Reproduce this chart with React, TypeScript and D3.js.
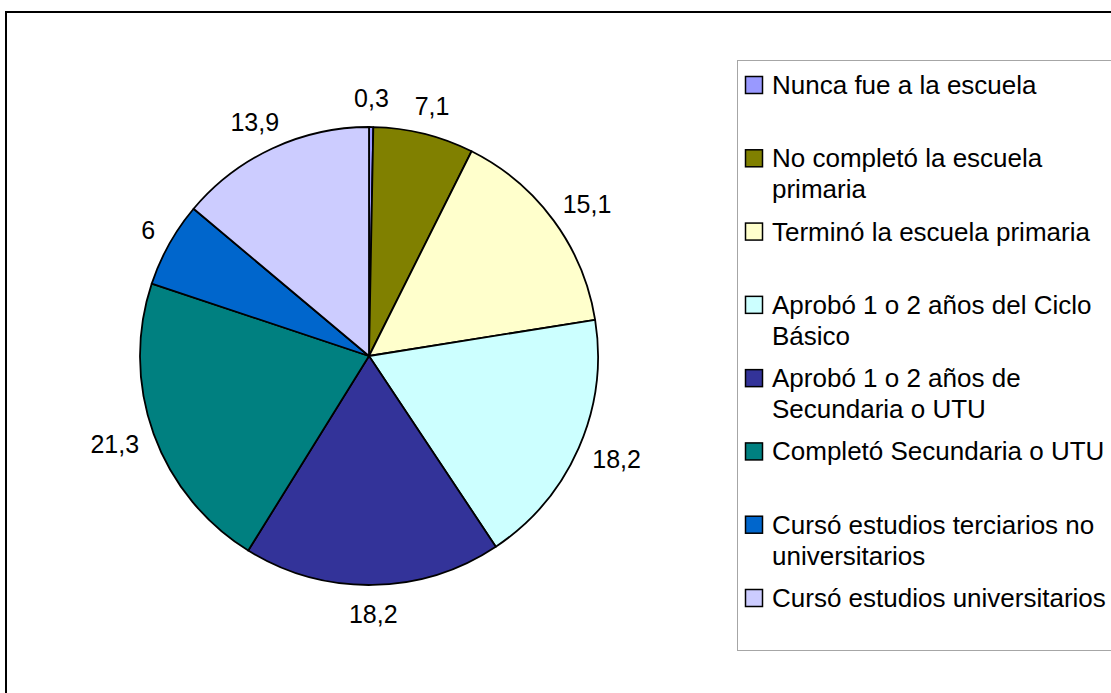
import { useEffect, useRef } from "react"
import * as d3 from "d3"

// Education level shares (%), clockwise from 12 o'clock
const categories = [
  "Nunca fue a la escuela",
  "No completó la escuela primaria",
  "Terminó la escuela primaria",
  "Aprobó 1 o 2 años del Ciclo Básico",
  "Aprobó 1 o 2 años de Secundaria o UTU",
  "Completó Secundaria o UTU",
  "Cursó estudios terciarios no universitarios",
  "Cursó estudios universitarios",
]
const values = [0.3, 7.1, 15.1, 18.2, 18.2, 21.3, 6, 13.9]
const colors = ["#9999FF", "#808000", "#FFFFCC", "#CCFFFF", "#333399", "#008080", "#0066CC", "#CCCCFF"]
// legend text as it wraps in the original
const legendLines = [
  ["Nunca fue a la escuela"],
  ["No completó la escuela", "primaria"],
  ["Terminó la escuela primaria"],
  ["Aprobó 1 o 2 años del Ciclo", "Básico"],
  ["Aprobó 1 o 2 años de", "Secundaria o UTU"],
  ["Completó Secundaria o UTU"],
  ["Cursó estudios terciarios no", "universitarios"],
  ["Cursó estudios universitarios"],
]

interface Slice {
  name: string
  value: number
  color: string
}

const data: Slice[] = categories.map((name, i) => ({ name, value: values[i], color: colors[i] }))

export default function App() {
  const svgRef = useRef<SVGSVGElement>(null)

  useEffect(() => {
    if (!svgRef.current) return
    d3.select(svgRef.current).selectAll("*").remove()

    const width = 1111
    const height = 693
    const font = "'Liberation Sans', Arial, sans-serif"
    const labelSize = 25
    const legendSize = 26
    const cx = 369
    const cy = 356
    const radius = 229

    const svg = d3
      .select(svgRef.current)
      .attr("width", width)
      .attr("height", height)
      .attr("viewBox", [0, 0, width, height])
      .style("font-family", font)

    svg.append("rect").attr("width", width).attr("height", height).attr("fill", "#fff")

    // outer chart border (runs off the right/bottom)
    svg
      .append("rect")
      .attr("x", 6)
      .attr("y", 12)
      .attr("width", 1300)
      .attr("height", 1000)
      .attr("fill", "none")
      .attr("stroke", "#000")
      .attr("stroke-width", 2)

    const pie = d3
      .pie<Slice>()
      .sort(null)
      .value((d) => d.value)
    const arcs = pie(data)
    const arc = d3.arc<d3.PieArcDatum<Slice>>().innerRadius(0).outerRadius(radius)

    const g = svg.append("g").attr("transform", `translate(${cx},${cy})`)

    g.selectAll("path")
      .data(arcs)
      .enter()
      .append("path")
      .attr("d", arc)
      .attr("fill", (d) => d.data.color)
      .attr("stroke", "#000")
      .attr("stroke-width", 1.8)
      .attr("stroke-linejoin", "round")

    // value labels, outside end: box sits just beyond the rim at mid-angle
    const labelR = radius + 17
    const boxH = 24
    g.selectAll("text.value")
      .data(arcs)
      .enter()
      .append("text")
      .attr("class", "value")
      .attr("font-size", labelSize)
      .attr("fill", "#000")
      .attr("text-anchor", "middle")
      .text((d) => String(d.data.value).replace(".", ","))
      .each(function (d) {
        const el = this as SVGTextElement
        const w = el.getComputedTextLength()
        const a = (d.startAngle + d.endAngle) / 2
        const sx = Math.sin(a)
        const cyv = -Math.cos(a)
        const x = sx * labelR + (sx * w) / 2
        const y = cyv * labelR + (cyv * boxH) / 2
        d3.select(el).attr("x", x).attr("y", y + labelSize * 0.36)
      })

    // legend
    const legend = svg.append("g")
    legend
      .append("rect")
      .attr("x", 737.5)
      .attr("y", 60.5)
      .attr("width", 600)
      .attr("height", 590)
      .attr("fill", "#fff")
      .attr("stroke", "#a6a6a6")
      .attr("stroke-width", 1)

    const rowY = d3.scaleLinear().domain([0, data.length - 1]).range([94, 607])
    const lineH = 31

    const items = legend
      .selectAll("g.item")
      .data(data)
      .enter()
      .append("g")
      .attr("class", "item")
      .attr("transform", (_, i) => `translate(0,${rowY(i)})`)

    items
      .append("rect")
      .attr("x", 745.5)
      .attr("y", -17.5)
      .attr("width", 17)
      .attr("height", 17)
      .attr("fill", (d) => d.color)
      .attr("stroke", "#000")
      .attr("stroke-width", 1.5)

    items
      .append("text")
      .attr("font-size", legendSize)
      .attr("fill", "#000")
      .selectAll("tspan")
      .data((_, i) => legendLines[i])
      .enter()
      .append("tspan")
      .attr("x", 772)
      .attr("y", (_, j) => j * lineH)
      .text((t) => t)
  }, [])

  return (
    <div style={{ position: "absolute", left: 0, top: 0 }}>
      <svg ref={svgRef} style={{ display: "block" }} />
    </div>
  )
}
